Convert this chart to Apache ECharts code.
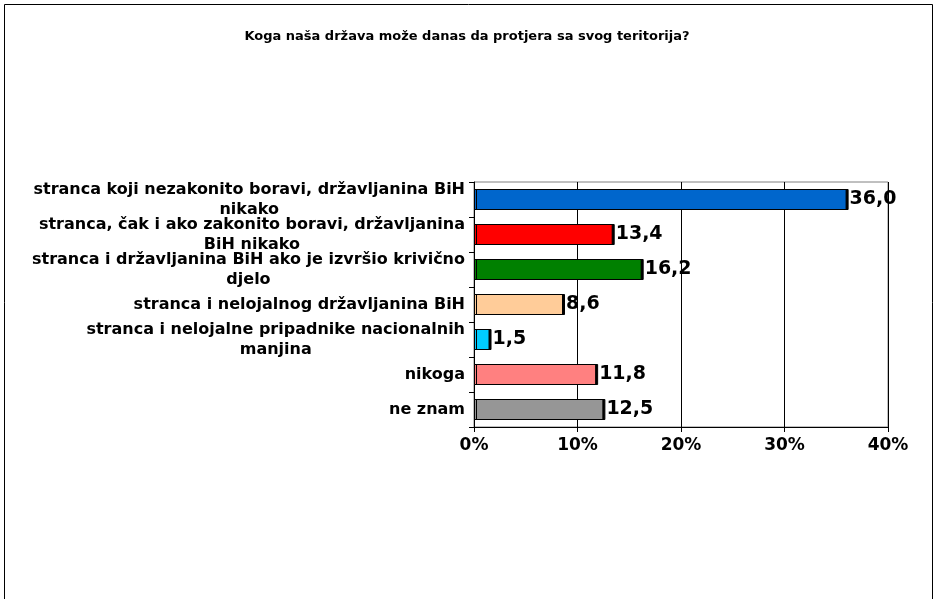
<!DOCTYPE html>
<html>
<head>
<meta charset="utf-8">
<script src="https://cdn.jsdelivr.net/npm/echarts@6/dist/echarts.min.js"></script>
<style>
  html, body { margin: 0; padding: 0; background: #fff; }
  #chart { width: 934px; height: 599px; }
</style>
</head>
<body>
<div id="chart"></div>
<script>
// podaci sa slike
const categories = [
    'stranca koji nezakonito boravi, državljanina BiH\nnikako',
    'stranca, čak i ako zakonito boravi, državljanina\nBiH nikako',
    'stranca i državljanina BiH ako je izvršio krivično\ndjelo',
    'stranca i nelojalnog državljanina BiH',
    'stranca i nelojalne pripadnike nacionalnih\nmanjina',
    'nikoga',
    'ne znam'
];
const values = [36.0, 13.4, 16.2, 8.6, 1.5, 11.8, 12.5];
const barColors = ['#0066CC', '#FF0000', '#008000', '#FFCC99', '#00CCFF', '#FF8080', '#969696'];
const tickLabels = ['0%', '10%', '20%', '30%', '40%'];

const chart = echarts.init(document.getElementById('chart'));
const font = 'DejaVu Sans, Verdana, sans-serif';
const catText = { fontFamily: font, fontSize: 16, fontWeight: 'bold', color: '#000', lineHeight: 20 };

chart.setOption({
    animation: false,
    title: {
        text: 'Koga naša država može danas da protjera sa svog teritorija?',
        left: 'center', top: 25,
        textStyle: { fontFamily: font, fontSize: 13, fontWeight: 'bold', color: '#000' }
    },
    // okvir oko cijele slike
    graphic: [{
        type: 'rect', left: 2, top: 2,
        shape: { width: 928, height: 620 },
        style: { fill: 'none', stroke: '#000', lineWidth: 1 }
    }],
    grid: {
        left: 474, top: 182, width: 414, height: 245,
        show: true, borderColor: '#808080', borderWidth: 1
    },
    xAxis: {
        type: 'value', min: 0, max: 40, interval: 10,
        axisLine: { show: true, lineStyle: { color: '#000' } },
        axisTick: { show: true, length: 5, lineStyle: { color: '#000' } },
        splitLine: { lineStyle: { color: '#000' } },
        axisLabel: {
            margin: 10, color: '#000', fontFamily: font, fontSize: 17, fontWeight: 'bold',
            formatter: v => tickLabels[v / 10]
        }
    },
    yAxis: {
        type: 'category', inverse: true, data: categories,
        axisLine: { show: true, lineStyle: { color: '#000' } },
        axisTick: { show: true, length: 5, lineStyle: { color: '#000' } },
        axisLabel: {
            interval: 0, margin: 9, align: 'right',
            ...catText,
            // redovi centrirani unutar bloka, kao u Excelu
            formatter: v => v.split('\n').map(l => '{c|' + l + '}').join('\n'),
            rich: { c: { ...catText, align: 'center' } }
        }
    },
    series: [{
        type: 'bar',
        barCategoryGap: '40%',
        data: values.map((v, i) => ({
            value: v,
            itemStyle: { color: barColors[i] }
        })),
        itemStyle: {
            borderColor: '#000', borderWidth: 1,
            shadowColor: '#000', shadowOffsetX: 2, shadowOffsetY: 0, shadowBlur: 0
        },
        label: {
            show: true, position: 'right', distance: 3,
            color: '#000', fontFamily: font, fontSize: 19, fontWeight: 'bold',
            formatter: p => p.value.toFixed(1).replace('.', ',')
        }
    }]
});
</script>
</body>
</html>
